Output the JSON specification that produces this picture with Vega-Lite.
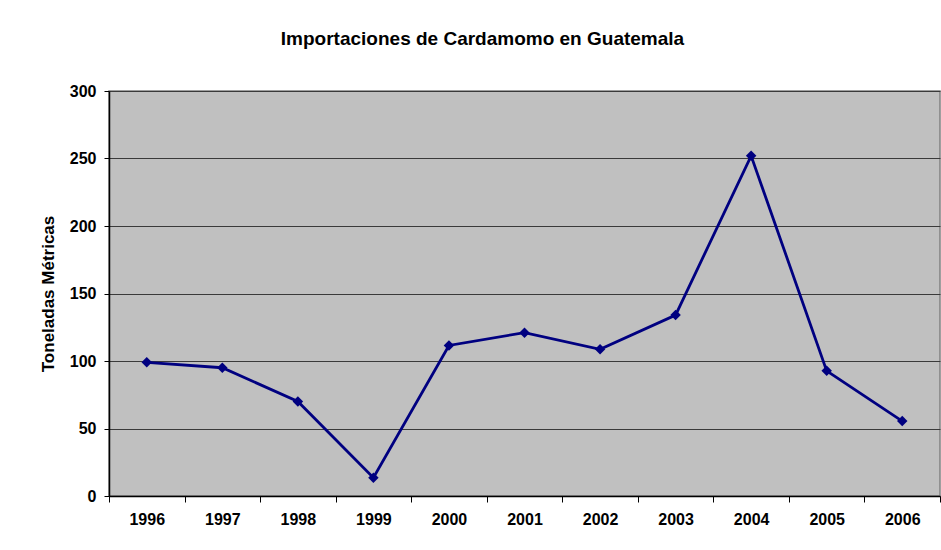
{
  "$schema": "https://vega.github.io/schema/vega-lite/v6.json",
  "autosize": "none",
  "width": 831,
  "height": 405,
  "padding": {"left": 109, "top": 91, "right": 1, "bottom": 54},
  "background": "white",
  "title": {
    "text": "Importaciones de Cardamomo en Guatemala",
    "font": "Liberation Sans",
    "fontSize": 19,
    "fontWeight": "bold",
    "color": "black",
    "anchor": "middle",
    "dx": -42,
    "baseline": "alphabetic",
    "offset": 19
  },
  "config": {
    "view": {"fill": "#C0C0C0", "stroke": "#808080", "strokeWidth": 1.5},
    "axis": {
      "labelFont": "Liberation Sans",
      "labelFontWeight": "bold",
      "labelFontSize": 16,
      "labelColor": "black",
      "titleFont": "Liberation Sans",
      "titleFontWeight": "bold",
      "titleColor": "black",
      "domainColor": "black",
      "domainWidth": 1.5,
      "tickColor": "black",
      "tickWidth": 1
    }
  },
  "data": {
    "values": [
      {"year": "1996", "value": 99},
      {"year": "1997", "value": 95},
      {"year": "1998", "value": 70},
      {"year": "1999", "value": 13.5},
      {"year": "2000", "value": 111.5},
      {"year": "2001", "value": 121},
      {"year": "2002", "value": 108.7},
      {"year": "2003", "value": 134},
      {"year": "2004", "value": 252},
      {"year": "2005", "value": 92.7},
      {"year": "2006", "value": 55.5}
    ]
  },
  "encoding": {
    "x": {
      "field": "year",
      "type": "ordinal",
      "scale": {"type": "band", "paddingInner": 0, "paddingOuter": 0},
      "axis": {
        "title": null,
        "labelAngle": 0,
        "tickBand": "extent",
        "tickSize": 6,
        "labelPadding": 9,
        "grid": false
      }
    },
    "y": {
      "field": "value",
      "type": "quantitative",
      "scale": {"domain": [0, 300], "nice": false},
      "axis": {
        "title": "Toneladas Métricas",
        "titleFontSize": 17,
        "titlePadding": 12,
        "values": [0, 50, 100, 150, 200, 250, 300],
        "tickSize": 5,
        "labelPadding": 8,
        "grid": true,
        "gridColor": "#3a3a3a",
        "gridWidth": 1,
        "gridOpacity": 1
      }
    }
  },
  "layer": [
    {
      "mark": {"type": "line", "color": "#000080", "strokeWidth": 2.8}
    },
    {
      "mark": {"type": "point", "shape": "diamond", "filled": true, "color": "#000080", "size": 110, "opacity": 1}
    }
  ]
}
